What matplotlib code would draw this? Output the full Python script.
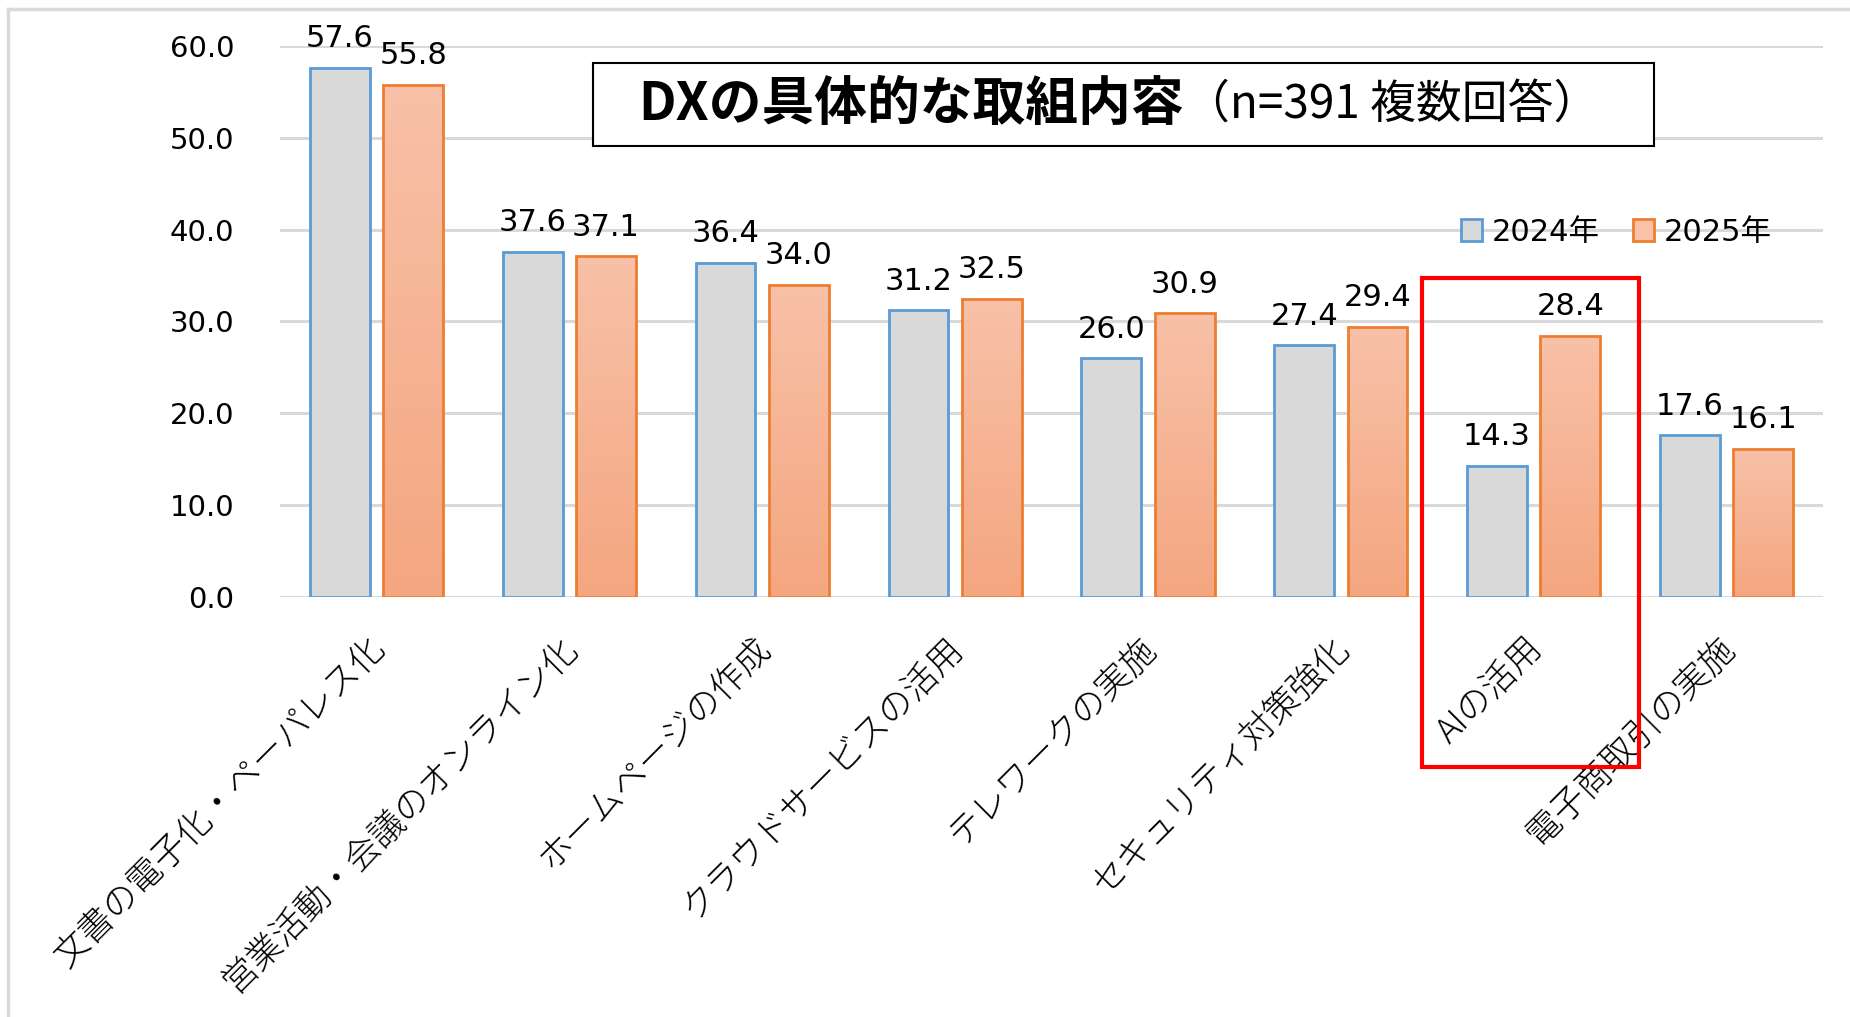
import numpy as np
import matplotlib
matplotlib.use('Agg')
import matplotlib.pyplot as plt
from matplotlib.patches import Rectangle
from matplotlib.lines import Line2D

plt.rcParams['font.family'] = ['Noto Sans CJK JP', 'DejaVu Sans']
num_font = ['DejaVu Sans', 'Noto Sans CJK JP']

categories = ['文書の電子化・ペーパレス化', '営業活動・会議のオンライン化', 'ホームページの作成',
              'クラウドサービスの活用', 'テレワークの実施', 'セキュリティ対策強化',
              'AIの活用', '電子商取引の実施']
vals_2024 = [57.6, 37.6, 36.4, 31.2, 26.0, 27.4, 14.3, 17.6]
vals_2025 = [55.8, 37.1, 34.0, 32.5, 30.9, 29.4, 28.4, 16.1]
series_names = ['2024年', '2025年']
yticks = [0, 10, 20, 30, 40, 50, 60]

gray_fill = '#d9d9d9'
blue_edge = '#5b9bd5'
orange_edge = '#ed7d31'
grad_top = '#f8c1a8'
grad_bot = '#f4a680'

fig = plt.figure(figsize=(18.5, 10.17), dpi=100)
ax = fig.add_axes([0.1514, 0.413, 0.834, 0.5418])

x = np.arange(len(categories))
w = 0.31
off = 0.19

b1 = ax.bar(x - off, vals_2024, w, color=gray_fill, edgecolor=blue_edge, linewidth=2, zorder=3)
b2 = ax.bar(x + off, vals_2025, w, color='none', edgecolor=orange_edge, linewidth=2, zorder=4)

# gradient fill for the 2025 bars
c_top = np.array(matplotlib.colors.to_rgb(grad_top))
c_bot = np.array(matplotlib.colors.to_rgb(grad_bot))
t = np.linspace(0, 1, 256)[:, None]
grad = (c_top * (1 - t) + c_bot * t)[:, None, :]
for bar in b2:
    bx, by = bar.get_x(), bar.get_y()
    bw, bh = bar.get_width(), bar.get_height()
    im = ax.imshow(grad, extent=[bx, bx + bw, by, by + bh], aspect='auto', zorder=3.5,
                   interpolation='bilinear')
    clip = Rectangle((bx, by), bw, bh, transform=ax.transData)
    im.set_clip_path(clip)

# data labels
for xi, v in zip(x - off, vals_2024):
    ax.text(xi, v + 1.6, f'{v:.1f}', ha='center', va='bottom', fontsize=22,
            family=num_font, clip_on=False, zorder=6)
for xi, v in zip(x + off, vals_2025):
    ax.text(xi, v + 1.6, f'{v:.1f}', ha='center', va='bottom', fontsize=22,
            family=num_font, clip_on=False, zorder=6)

ax.set_xlim(-0.5, len(categories) - 0.5)
ax.set_ylim(0, 60)
ax.set_yticks(yticks)
ax.set_yticklabels([f'{v:.1f}' for v in yticks], fontsize=21, family=num_font)
ax.yaxis.grid(True, color='#d9d9d9', linewidth=2.2, zorder=0)
ax.set_axisbelow(True)
for s in ax.spines.values():
    s.set_visible(False)
ax.tick_params(axis='y', length=0, pad=33)
ax.tick_params(axis='x', length=0)
ax.set_xticks(x)
ax.set_xticklabels([])

# category labels, rotated 45
for xi, lab in zip(x, categories):
    ax.text(xi - 0.05, -3.6, lab, rotation=45, ha='right', va='top', rotation_mode='anchor',
            fontsize=25, fontweight='light', clip_on=False)

# legend
handles = [Rectangle((0, 0), 1, 1, facecolor=gray_fill, edgecolor=blue_edge, linewidth=2),
           Rectangle((0, 0), 1, 1, facecolor=grad_top, edgecolor=orange_edge, linewidth=2)]
ax.legend(handles, series_names, loc='center', bbox_to_anchor=(0.866, 0.662),
          ncol=2, frameon=False, prop={'family': num_font, 'size': 22},
          handlelength=0.7, handleheight=0.7, handletextpad=0.3, columnspacing=1.1)

# highlight box around AI
ax.add_patch(Rectangle((5.42, -18.5), 1.125, 53.2, fill=False, edgecolor='#ff0000',
                       linewidth=3, clip_on=False, zorder=7))

# title box
fig.patches.append(Rectangle((0.3205, 0.8564), 0.5735, 0.0816, transform=fig.transFigure,
                             facecolor='white', edgecolor='black', linewidth=1.5, zorder=8))
t1 = fig.text(0.345, 0.897, 'DXの具体的な取組内容', fontsize=38, fontweight='bold',
              ha='left', va='center', zorder=9)
fig.canvas.draw()
bb = t1.get_window_extent(fig.canvas.get_renderer())
x_end = fig.transFigure.inverted().transform((bb.x1, bb.y0))[0]
fig.text(x_end, 0.897, '（n=391 複数回答）', fontsize=33, ha='left', va='center', zorder=9)

# outer border (left and top)
fig.lines.append(Line2D([0.0045, 0.0045], [0, 0.991], transform=fig.transFigure, color='#d9d9d9', linewidth=2.5))
fig.lines.append(Line2D([0.0045, 1.0], [0.991, 0.991], transform=fig.transFigure, color='#d9d9d9', linewidth=2.5))

fig.savefig('out.png', dpi=100)
